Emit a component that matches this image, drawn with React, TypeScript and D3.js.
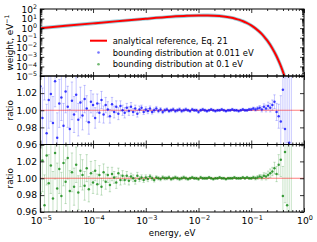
import * as d3 from "d3"
import { useEffect, useRef } from "react"

// analytical reference (top panel)
const refEnergy = [1e-5, 3e-5, 1e-4, 3e-4, 1e-3, 3e-3, 6e-3, 1e-2, 1.5e-2, 2e-2, 3e-2, 4e-2, 5e-2, 6e-2, 7e-2, 8e-2, 0.1, 0.12, 0.15, 0.175, 0.2, 0.25, 0.3, 0.35, 0.4, 0.45]
const refWeight = [1.0, 1.73, 3.15, 5.41, 9.61, 15.4, 19.3, 21.3, 21.4, 20.3, 16.7, 13.0, 9.79, 7.22, 5.26, 3.78, 1.92, 0.954, 0.326, 0.131, 0.0521, 0.00809, 0.00123, 1.84e-4, 2.72e-5, 3.99e-6]

// sample energies of the ratio panels (log10 eV)
const ratioLogE = [
  -5.00, -4.96, -4.92, -4.88, -4.84, -4.80, -4.76, -4.72, -4.68, -4.64,
  -4.60, -4.56, -4.52, -4.48, -4.44, -4.40, -4.36, -4.32, -4.28, -4.24,
  -4.20, -4.16, -4.12, -4.08, -4.04, -4.00, -3.96, -3.92, -3.88, -3.84,
  -3.80, -3.76, -3.72, -3.68, -3.64, -3.60, -3.56, -3.52, -3.48, -3.44,
  -3.40, -3.36, -3.32, -3.28, -3.24, -3.20, -3.16, -3.12, -3.08, -3.04,
  -3.00, -2.96, -2.92, -2.88, -2.84, -2.80, -2.76, -2.72, -2.68, -2.64,
  -2.60, -2.56, -2.52, -2.48, -2.44, -2.40, -2.36, -2.32, -2.28, -2.24,
  -2.20, -2.16, -2.12, -2.08, -2.04, -2.00, -1.96, -1.92, -1.88, -1.84,
  -1.80, -1.76, -1.72, -1.68, -1.64, -1.60, -1.56, -1.52, -1.48, -1.44,
  -1.40, -1.36, -1.32, -1.28, -1.24, -1.20, -1.16, -1.12, -1.08, -1.04,
  -1.00, -0.96, -0.92, -0.88, -0.84, -0.80, -0.76, -0.72, -0.68, -0.64,
  -0.60, -0.56, -0.52, -0.48, -0.44, -0.40, -0.36, -0.32, -0.28, -0.24,
]

// bounding distribution at 0.011 eV
const blueRatio = [
  1.028, 0.991, 1.046, 0.973, 1.012, 1.019, 0.985, 1.034, 0.968, 1.008,
  1.015, 0.982, 1.022, 1.004, 0.978, 1.011, 0.995, 1.018, 0.989, 1.009,
  0.994, 1.013, 1.002, 0.986, 1.010, 1.006, 0.991, 1.008, 0.997, 1.012,
  0.995, 1.006, 1.001, 0.993, 1.007, 0.998, 1.004, 0.996, 1.005, 1.000,
  0.997, 1.003, 0.999, 1.004, 0.998, 1.002, 0.996, 1.001, 1.003, 0.998,
  1.001, 0.999, 1.002, 0.998, 1.000, 1.002, 0.999, 1.001, 0.998, 1.000,
  1.001, 0.999, 1.000, 1.001, 0.999, 1.000, 1.001, 0.999, 1.000, 1.001,
  1.000, 0.999, 1.001, 1.000, 1.000, 0.998, 1.000, 1.001, 1.000, 0.999,
  1.000, 1.001, 1.000, 0.999, 1.000, 1.000, 1.001, 1.000, 0.999, 1.000,
  1.000, 1.001, 1.000, 1.000, 0.999, 1.000, 1.001, 1.000, 1.000, 1.001,
  1.001, 1.002, 1.001, 1.002, 1.003, 1.001, 1.004, 1.002, 1.005, 1.003,
  1.006, 1.010, 0.998, 0.993, 0.987, 1.024, 0.978, 1.052, 0.962, 1.085,
]
const blueErr = [
  .036, .035, .034, .034, .033, .032, .031, .030, .029, .028,
  .027, .026, .025, .024, .023, .022, .021, .020, .019, .018,
  .017, .016, .015, .014, .013, .013, .012, .011, .011, .010,
  .010, .009, .009, .008, .008, .007, .007, .007, .006, .006,
  .006, .005, .005, .005, .004, .004, .004, .004, .003, .003,
  .003, .003, .003, .0025, .0025, .0025, .002, .002, .002, .002,
  .0018, .0018, .0018, .0018, .0018, .0018, .0018, .0018, .0018, .0018,
  .0015, .0015, .0015, .0015, .0015, .0015, .0015, .0015, .0015, .0015,
  .0013, .0013, .0013, .0013, .0013, .0013, .0013, .0013, .0013, .0013,
  .0013, .0013, .0013, .0013, .0013, .0013, .0013, .0013, .0013, .0013,
  .0015, .0017, .002, .0022, .0025, .003, .0035, .004, .0045, .005,
  .006, .008, .010, .014, .030, .045, .060, .090, .150, .300,
]

// bounding distribution at 0.1 eV
const greenRatio = [
  0.982, 1.021, 0.968, 1.027, 0.994, 1.015, 0.976, 1.030, 0.988, 1.011,
  0.979, 1.018, 0.996, 1.024, 0.985, 1.007, 0.990, 1.016, 0.983, 1.009,
  1.004, 0.991, 1.012, 0.987, 1.006, 0.995, 1.009, 0.993, 1.004, 0.990,
  1.007, 0.996, 1.004, 0.992, 1.005, 1.001, 0.995, 1.006, 0.998, 1.003,
  0.998, 1.003, 0.997, 1.002, 1.000, 0.997, 1.003, 0.999, 1.001, 0.998,
  1.001, 0.999, 1.002, 1.000, 0.998, 1.001, 1.000, 0.999, 1.001, 1.000,
  1.000, 1.001, 0.999, 1.000, 1.001, 1.000, 0.999, 1.000, 1.001, 1.000,
  0.999, 1.000, 1.001, 1.000, 1.000, 0.999, 1.001, 1.000, 1.000, 1.000,
  1.001, 1.000, 0.999, 1.000, 1.000, 1.001, 1.000, 1.000, 0.999, 1.000,
  1.000, 1.000, 1.001, 1.000, 1.000, 1.000, 1.001, 1.000, 1.001, 1.000,
  1.000, 1.001, 1.000, 1.001, 1.002, 1.001, 1.003, 1.002, 1.004, 1.006,
  1.008, 1.012, 1.005, 1.016, 1.022, 0.979, 1.031, 0.968, 1.045, 0.955,
]
const greenErr = [
  .038, .037, .036, .035, .034, .033, .032, .031, .030, .029,
  .028, .027, .026, .025, .024, .023, .022, .021, .020, .019,
  .018, .017, .016, .015, .014, .013, .012, .012, .011, .010,
  .010, .009, .009, .008, .008, .007, .007, .006, .006, .006,
  .005, .005, .005, .004, .004, .004, .004, .003, .003, .003,
  .003, .003, .0025, .0025, .0025, .002, .002, .002, .002, .002,
  .0018, .0018, .0018, .0018, .0018, .0018, .0018, .0018, .0018, .0018,
  .0015, .0015, .0015, .0015, .0015, .0015, .0015, .0015, .0015, .0015,
  .0013, .0013, .0013, .0013, .0013, .0013, .0013, .0013, .0013, .0013,
  .0013, .0013, .0013, .0013, .0013, .0013, .0013, .0013, .0013, .0013,
  .0015, .0017, .002, .0022, .0025, .003, .0035, .004, .0045, .005,
  .005, .007, .009, .012, .020, .035, .060, .100, .180, .300,
]

const xDecades = [-5, -4, -3, -2, -1, 0]
const weightDecades = [-5, -4, -3, -2, -1, 0, 1, 2]
const ratioTicks = [0.96, 0.98, 1.00, 1.02]
const legendLabels = ["analytical reference, Eq. 21", "bounding distribution at 0.011 eV", "bounding distribution at 0.1 eV"]

const FONT = "DejaVu Sans"

export default function App() {
  const svgRef = useRef<SVGSVGElement>(null)

  useEffect(() => {
    document.body.style.margin = "0"
    if (!svgRef.current) return
    const svg = d3.select(svgRef.current)
    svg.selectAll("*").remove()

    const left = 40.3
    const right = 304
    const topP = [9, 76]
    const midP = [76, 144.5]
    const botP = [144.5, 212]

    const x = d3.scaleLog().domain([1e-5, 1]).range([left, right])
    const yW = d3.scaleLog().domain([1e-5, 1e2]).range([topP[1], topP[0]])
    const yMid = d3.scaleLinear().domain([0.96, 1.04]).range([midP[1], midP[0]])
    const yBot = d3.scaleLinear().domain([0.96, 1.04]).range([botP[1], botP[0]])

    const xMajor = xDecades.map((e) => Math.pow(10, e))
    const xMinor: number[] = []
    xDecades.slice(0, -1).forEach((e) => d3.range(2, 10).forEach((k) => xMinor.push(k * Math.pow(10, e))))
    const wMajor = weightDecades.map((e) => Math.pow(10, e))
    const wMinor: number[] = []
    weightDecades.slice(0, -1).forEach((e) => d3.range(2, 10).forEach((k) => wMinor.push(k * Math.pow(10, e))))

    const defs = svg.append("defs")
    const clip = (id: string, p: number[]) =>
      defs.append("clipPath").attr("id", id).append("rect")
        .attr("x", left).attr("y", p[0]).attr("width", right - left).attr("height", p[1] - p[0])
    clip("c-top", topP)
    clip("c-mid", midP)
    clip("c-bot", botP)

    // top panel curve
    const gTop = svg.append("g").attr("clip-path", "url(#c-top)")
    const refData = refEnergy.map((e, i) => [e, refWeight[i]] as [number, number])
    const line = d3.line<[number, number]>().x((d) => x(d[0])).y((d) => yW(d[1])).curve(d3.curveMonotoneX)
    gTop.append("path").datum(refData).attr("fill", "none").attr("stroke", "#6fb7c9")
      .attr("stroke-opacity", 0.7).attr("stroke-width", 3.6).attr("d", line)
    gTop.append("path").datum(refData).attr("fill", "none").attr("stroke", "#ff0000")
      .attr("stroke-width", 2).attr("d", line)

    // ratio panels
    const ratioPanel = (id: string, y: d3.ScaleLinear<number, number>, vals: number[], errs: number[], color: string) => {
      const g = svg.append("g").attr("clip-path", `url(#${id})`)
      const pts = ratioLogE.map((le, i) => ({ e: Math.pow(10, le), r: vals[i], s: errs[i] }))
      const eb = g.append("g").attr("stroke", color).attr("stroke-opacity", 0.22).attr("stroke-width", 1)
      pts.forEach((p) => {
        const cx = x(p.e)
        eb.append("line").attr("x1", cx).attr("x2", cx).attr("y1", y(p.r - p.s)).attr("y2", y(p.r + p.s))
        eb.append("line").attr("x1", cx - 1.2).attr("x2", cx + 1.2).attr("y1", y(p.r - p.s)).attr("y2", y(p.r - p.s))
        eb.append("line").attr("x1", cx - 1.2).attr("x2", cx + 1.2).attr("y1", y(p.r + p.s)).attr("y2", y(p.r + p.s))
      })
      g.append("line").attr("x1", left).attr("x2", right).attr("y1", y(1)).attr("y2", y(1))
        .attr("stroke", "#ff0000").attr("stroke-opacity", 0.5).attr("stroke-width", 1)
      g.selectAll("circle.pt").data(pts).join("circle").attr("class", "pt")
        .attr("cx", (d) => x(d.e)).attr("cy", (d) => y(d.r)).attr("r", 1.25)
        .attr("fill", color).attr("fill-opacity", 0.75)
    }
    ratioPanel("c-mid", yMid, blueRatio, blueErr, "#0000ff")
    ratioPanel("c-bot", yBot, greenRatio, greenErr, "#008000")

    // frames and inward ticks on all four sides
    const ticks = (p: number[], y: any, yMajor: number[], yMinor: number[]) => {
      const add = (axis: any, tx: number, ty: number) =>
        svg.append("g").attr("transform", `translate(${tx},${ty})`)
          .call(axis.tickFormat(() => "").tickSizeOuter(0))
          .call((g: any) => g.select(".domain").remove())
          .call((g: any) => g.selectAll("line").attr("stroke", "#000").attr("stroke-width", 0.8))
      add(d3.axisBottom(x).tickValues(xMajor).tickSizeInner(-4), 0, p[1])
      add(d3.axisBottom(x).tickValues(xMinor).tickSizeInner(-2), 0, p[1])
      add(d3.axisTop(x).tickValues(xMajor).tickSizeInner(-4), 0, p[0])
      add(d3.axisTop(x).tickValues(xMinor).tickSizeInner(-2), 0, p[0])
      add(d3.axisLeft(y).tickValues(yMajor).tickSizeInner(-4), left, 0)
      add(d3.axisRight(y).tickValues(yMajor).tickSizeInner(-4), right, 0)
      if (yMinor.length) {
        add(d3.axisLeft(y).tickValues(yMinor).tickSizeInner(-2), left, 0)
        add(d3.axisRight(y).tickValues(yMinor).tickSizeInner(-2), right, 0)
      }
      svg.append("rect").attr("x", left).attr("y", p[0]).attr("width", right - left).attr("height", p[1] - p[0])
        .attr("fill", "none").attr("stroke", "#000").attr("stroke-width", 1)
    }
    ticks(topP, yW, wMajor, wMinor)
    ticks(midP, yMid, [...ratioTicks, 1.04], [])
    ticks(botP, yBot, [...ratioTicks, 1.04], [])

    const sup = (e: number) => (e < 0 ? "\u2212" + Math.abs(e) : String(e))
    const txt = svg.append("g").attr("font-family", FONT).attr("fill", "#000")

    // y tick labels, top panel
    weightDecades.forEach((e) => {
      const t = txt.append("text").attr("x", 37).attr("y", yW(Math.pow(10, e)) + 3.8)
        .attr("text-anchor", "end").attr("font-size", 9)
      t.append("tspan").text("10")
      t.append("tspan").attr("dy", -3.6).attr("font-size", 6.3).text(sup(e))
    })
    // ratio tick labels
    ;[yMid, yBot].forEach((y) => {
      ratioTicks.forEach((v) => {
        txt.append("text").attr("x", 37).attr("y", y(v) + 3.3).attr("text-anchor", "end")
          .attr("font-size", 9.2).text(d3.format(".2f")(v))
      })
    })
    // x tick labels
    xDecades.forEach((e) => {
      const t = txt.append("text").attr("x", x(Math.pow(10, e)) + 1).attr("y", 223.5)
        .attr("text-anchor", "middle").attr("font-size", 9.2)
      t.append("tspan").text("10")
      t.append("tspan").attr("dy", -4).attr("font-size", 6.5).text(sup(e))
    })

    // axis labels
    const wl = txt.append("text").attr("transform", `translate(12.5,${(topP[0] + topP[1]) / 2}) rotate(-90)`)
      .attr("text-anchor", "middle").attr("font-size", 8.8)
    wl.append("tspan").text("weight, eV")
    wl.append("tspan").attr("dy", -3.5).attr("font-size", 6.2).text("\u22121")
    ;[midP, botP].forEach((p) => {
      txt.append("text").attr("transform", `translate(12.5,${(p[0] + p[1]) / 2}) rotate(-90)`)
        .attr("text-anchor", "middle").attr("font-size", 8.8).text("ratio")
    })
    txt.append("text").attr("x", (left + right) / 2).attr("y", 235.5).attr("text-anchor", "middle")
      .attr("font-size", 8.6).text("energy, eV")

    // legend
    const rows = [40.7, 52.5, 64.3]
    const lg = svg.append("g")
    lg.append("line").attr("x1", 90).attr("x2", 107).attr("y1", rows[0]).attr("y2", rows[0])
      .attr("stroke", "#ff0000").attr("stroke-width", 2)
    lg.append("circle").attr("cx", 98.5).attr("cy", rows[1]).attr("r", 1.3).attr("fill", "#0000ff").attr("fill-opacity", 0.55)
    lg.append("circle").attr("cx", 98.5).attr("cy", rows[2]).attr("r", 1.3).attr("fill", "#008000").attr("fill-opacity", 0.55)
    legendLabels.forEach((l, i) => {
      txt.append("text").attr("x", 112.7).attr("y", rows[i] + 3).attr("font-size", 8.4).text(l)
    })
  }, [])

  return <svg ref={svgRef} width={317} height={242} viewBox="0 0 317 242" style={{ display: "block" }} />
}
